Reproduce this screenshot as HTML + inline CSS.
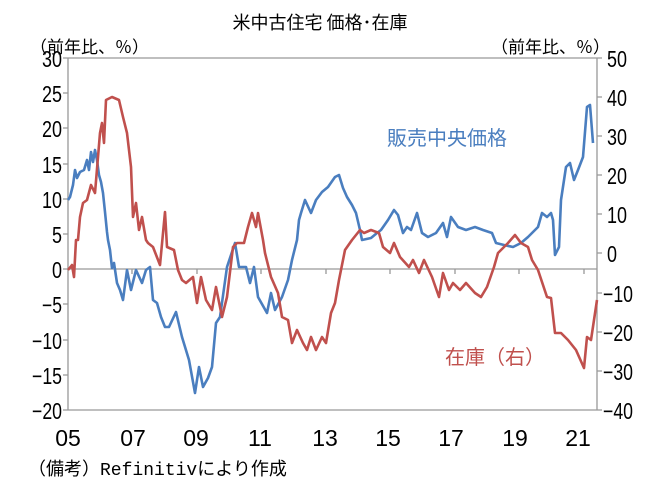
<!DOCTYPE html>
<html><head><meta charset="utf-8"><style>
body{margin:0;background:#fff;width:662px;height:492px;overflow:hidden}
text{font-family:"Liberation Sans","Noto Sans CJK JP",sans-serif;fill:#000}
.j{font-family:"Noto Sans CJK JP",sans-serif}
.m{font-family:"Liberation Mono","Noto Sans CJK JP",monospace}
</style></head><body>
<svg width="662" height="492" viewBox="0 0 662 492">
<text x="320" y="29" font-size="18" text-anchor="middle" class="j">米中古住宅 価格･在庫</text>
<text x="30" y="53" font-size="17" class="j">（前年比、％）</text>
<text x="610" y="53" font-size="17" text-anchor="end" class="j">（前年比、％）</text>
<g stroke="#999" stroke-width="1.3" fill="none">
<line x1="68" y1="58" x2="597" y2="58"/>
<line x1="68" y1="58" x2="68" y2="410"/>
<line x1="597" y1="58" x2="597" y2="410"/>
<line x1="68" y1="410" x2="597" y2="410"/>
<line x1="68" y1="269" x2="597" y2="269"/>
<path d="M63 58H68M63 93H68M63 128H68M63 164H68M63 199H68M63 234H68M63 269H68M63 304H68M63 340H68M63 375H68M63 410H68M597 58H602M597 97H602M597 136H602M597 175H602M597 214H602M597 253H602M597 293H602M597 332H602M597 371H602M597 410H602M132 269V274M197 269V274M261 269V274M326 269V274M390 269V274M455 269V274M519 269V274M584 269V274"/>
</g>
<g font-size="23" text-anchor="end">
<text x="62" y="67" textLength="20" lengthAdjust="spacingAndGlyphs">30</text><text x="62" y="102" textLength="20" lengthAdjust="spacingAndGlyphs">25</text><text x="62" y="137" textLength="20" lengthAdjust="spacingAndGlyphs">20</text><text x="62" y="173" textLength="20" lengthAdjust="spacingAndGlyphs">15</text><text x="62" y="208" textLength="20" lengthAdjust="spacingAndGlyphs">10</text><text x="62" y="243" textLength="10" lengthAdjust="spacingAndGlyphs">5</text><text x="62" y="278" textLength="10" lengthAdjust="spacingAndGlyphs">0</text><text x="62" y="313" textLength="20" lengthAdjust="spacingAndGlyphs">−5</text><text x="62" y="349" textLength="30" lengthAdjust="spacingAndGlyphs">−10</text><text x="62" y="384" textLength="30" lengthAdjust="spacingAndGlyphs">−15</text><text x="62" y="419" textLength="30" lengthAdjust="spacingAndGlyphs">−20</text>
</g>
<g font-size="23">
<text x="607" y="67" textLength="20" lengthAdjust="spacingAndGlyphs">50</text><text x="607" y="106" textLength="20" lengthAdjust="spacingAndGlyphs">40</text><text x="607" y="145" textLength="20" lengthAdjust="spacingAndGlyphs">30</text><text x="607" y="184" textLength="20" lengthAdjust="spacingAndGlyphs">20</text><text x="607" y="223" textLength="20" lengthAdjust="spacingAndGlyphs">10</text><text x="607" y="262" textLength="10" lengthAdjust="spacingAndGlyphs">0</text><text x="603" y="302" textLength="30" lengthAdjust="spacingAndGlyphs">−10</text><text x="603" y="341" textLength="30" lengthAdjust="spacingAndGlyphs">−20</text><text x="603" y="380" textLength="30" lengthAdjust="spacingAndGlyphs">−30</text><text x="603" y="419" textLength="30" lengthAdjust="spacingAndGlyphs">−40</text>
</g>
<g font-size="23" text-anchor="middle">
<text x="68" y="446">05</text><text x="133" y="446">07</text><text x="196" y="446">09</text><text x="260" y="446">11</text><text x="325" y="446">13</text><text x="388" y="446">15</text><text x="451" y="446">17</text><text x="515" y="446">19</text><text x="578" y="446">21</text>
</g>
<text x="28" y="475" font-size="18" class="m">（備考）Refinitivにより作成</text>
<polyline fill="none" stroke="#4a7ebf" stroke-width="2.6" stroke-linejoin="round" points="68,200 70,197 73,185 75,170 77,178 80,172 84,170 87,160 89,170 91,152 93,162 95,150 97,160 99,175 101,182 103,193 105,212 107,232 108,240 110,250 112,268 114,263 117,283 120,290 123,300 127,270 131,290 136,270 142,283 146,270 150,267 153,300 157,303 161,317 165,327 169,327 176,312 182,337 189,360 195,393 199,367 203,387 208,378 212,367 216,323 220,317 227,267 235,243 239,267 246,267 250,283 254,267 258,297 267,313 271,293 275,310 282,297 288,280 292,260 297,240 299,220 301,213 305,200 311,213 316,200 322,192 328,187 335,177 339,175 343,188 347,197 352,205 356,213 360,230 362,240 371,238 377,233 381,230 388,220 394,210 398,215 403,233 407,227 411,230 417,213 422,233 428,237 436,233 443,223 447,237 451,217 458,227 466,230 475,227 483,230 492,233 496,243 504,245 513,247 521,243 528,237 538,227 542,213 547,217 551,213 553,220 555,255 559,247 561,200 566,167 570,163 574,180 578,170 583,157 587,107 590,105 593,143"/>
<polyline fill="none" stroke="#c0504d" stroke-width="2.6" stroke-linejoin="round" points="68,270 72,265 74,277 76,240 78,240 80,217 83,203 87,200 91,185 95,193 100,133 102,123 104,143 106,100 112,97 119,100 123,117 127,133 131,167 133,217 136,203 139,230 142,217 146,240 148,243 153,247 160,265 165,212 167,247 174,250 178,270 182,280 186,283 193,277 197,303 201,277 206,300 212,310 216,287 222,317 227,297 233,247 237,243 244,243 248,227 252,213 256,227 258,213 263,240 265,253 271,277 278,293 282,317 288,320 292,343 297,330 303,343 307,350 311,337 316,350 322,337 326,343 331,313 335,303 339,280 345,250 352,240 360,230 364,233 371,230 379,233 383,247 390,253 394,243 400,257 409,267 413,260 419,273 424,260 432,277 439,297 443,273 449,290 453,283 460,290 466,283 475,293 481,297 487,287 494,267 498,253 504,247 508,243 515,235 521,243 528,247 532,260 538,270 547,297 551,298 555,333 561,333 568,340 576,350 584,368 587,337 591,340 597,300"/>
<text x="387" y="145" font-size="20" class="j" style="fill:#4a7ebf">販売中央価格</text>
<text x="445" y="364" font-size="20" class="j" style="fill:#c0504d">在庫（右）</text>
</svg>
</body></html>
